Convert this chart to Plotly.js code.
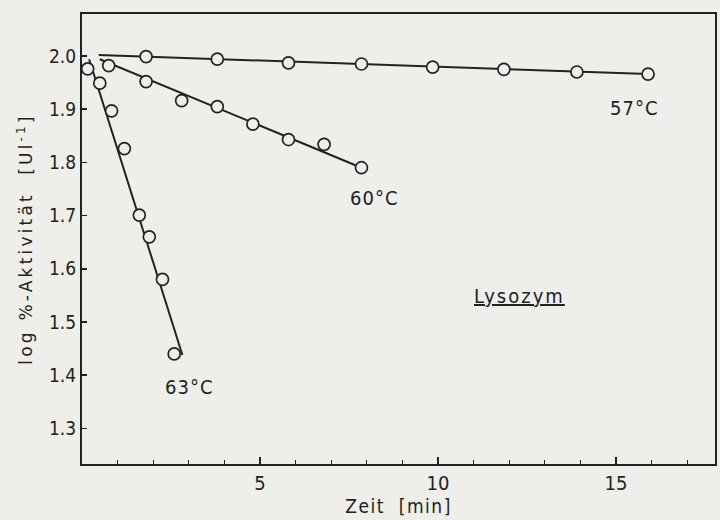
<!DOCTYPE html>
<html>
<head>
<meta charset="utf-8">
<script src="https://cdn.plot.ly/plotly-3.0.1.min.js"></script>
<style>
html,body{margin:0;padding:0;background:#eeeeea;}
#chart{width:720px;height:520px;}
</style>
</head>
<body>
<div id="chart"></div>
<script>
// Zeit [min] and log %-Aktivität for each temperature
const t57 = [1.8, 3.8, 5.8, 7.85, 9.85, 11.85, 13.9, 15.9];
const a57 = [1.999, 1.994, 1.987, 1.985, 1.979, 1.975, 1.970, 1.966];

const t60 = [0.75, 1.8, 2.8, 3.8, 4.8, 5.8, 6.8, 7.85];
const a60 = [1.982, 1.952, 1.916, 1.905, 1.872, 1.843, 1.834, 1.790];

const t63 = [0.16, 0.5, 0.83, 1.19, 1.61, 1.89, 2.26, 2.59];
const a63 = [1.976, 1.949, 1.897, 1.826, 1.701, 1.660, 1.580, 1.440];

// regression lines drawn in the figure (start / end)
const fit57x = [0.47, 15.9];
const fit57y = [2.002, 1.966];
const fit60x = [0.5, 7.85];
const fit60y = [1.994, 1.790];
const fit63x = [0.2, 2.82];
const fit63y = [1.994, 1.438];

const seriesLabels = ["57\u00b0C", "60\u00b0C", "63\u00b0C"];
const labelX = [15.5, 8.2, 3.0];
const labelY = [1.903, 1.734, 1.378];

const yTicks = [1.3, 1.4, 1.5, 1.6, 1.7, 1.8, 1.9, 2.0];
const xTicks = [5, 10, 15];

const ink = '#222222';
const paper = '#eeeeea';
const font = 'DejaVu Sans Condensed, Liberation Sans Narrow, DejaVu Sans, sans-serif';
const wideFont = 'DejaVu Sans, sans-serif';

function fitTrace(x, y) {
  return {x: x, y: y, mode: 'lines', type: 'scatter', showlegend: false,
          line: {color: ink, width: 2}, hoverinfo: 'skip'};
}
function ptsTrace(x, y, name) {
  return {x: x, y: y, mode: 'markers', type: 'scatter', name: name, showlegend: false,
          marker: {symbol: 'circle', size: 12, color: paper, line: {color: ink, width: 1.7}}};
}

const data = [
  fitTrace(fit57x, fit57y), fitTrace(fit60x, fit60y), fitTrace(fit63x, fit63y),
  ptsTrace(t57, a57, seriesLabels[0]), ptsTrace(t60, a60, seriesLabels[1]), ptsTrace(t63, a63, seriesLabels[2])
];

const annotations = seriesLabels.map((s, i) => ({
  x: labelX[i], y: labelY[i], xref: 'x', yref: 'y',
  text: '<span style="letter-spacing:1px">' + s + '</span>', showarrow: false,
  font: {family: font, size: 20, color: ink}
}));
annotations.push({
  x: 12.28, y: 1.548, xref: 'x', yref: 'y',
  text: '<span style="text-decoration:underline;letter-spacing:2px">Lysozym</span>',
  showarrow: false, font: {family: font, size: 20, color: ink}
});

const layout = {
  width: 720, height: 520,
  paper_bgcolor: paper, plot_bgcolor: paper,
  margin: {l: 82, r: 5, t: 14, b: 56},
  font: {family: font, color: ink, size: 18},
  xaxis: {
    range: [0, 17.78], tickvals: xTicks, ticktext: xTicks.map(String),
    ticks: 'inside', ticklen: 7, tickwidth: 1.5, tickcolor: ink,
    minor: {dtick: 1, tick0: 0, ticks: 'inside', ticklen: 4, tickwidth: 1.3, tickcolor: ink},
    showline: true, linecolor: ink, linewidth: 2, mirror: true,
    showgrid: false, zeroline: false,
    tickfont: {family: font, size: 20, color: ink},
    title: {text: '<span style="letter-spacing:1.5px">Zeit\u00a0\u00a0[min]</span>\u00a0\u00a0',
            font: {family: font, size: 19, color: ink}, standoff: 6}
  },
  yaxis: {
    range: [1.233, 2.079], tickvals: yTicks, ticktext: yTicks.map(v => v.toFixed(1)),
    ticks: 'inside', ticklen: 5, tickwidth: 1.5, tickcolor: ink,
    showline: true, linecolor: ink, linewidth: 2, mirror: true,
    showgrid: false, zeroline: false,
    tickfont: {family: font, size: 19, color: ink},
    title: {text: '<span style="letter-spacing:3.2px">log\u00a0%-Aktivität\u00a0\u00a0[Ul<sup>-1</sup>]</span>',
            font: {family: wideFont, size: 17, color: ink}, standoff: 12}
  },
  annotations: annotations
};

Plotly.newPlot('chart', data, layout, {displayModeBar: false, staticPlot: true});
</script>
</body>
</html>
